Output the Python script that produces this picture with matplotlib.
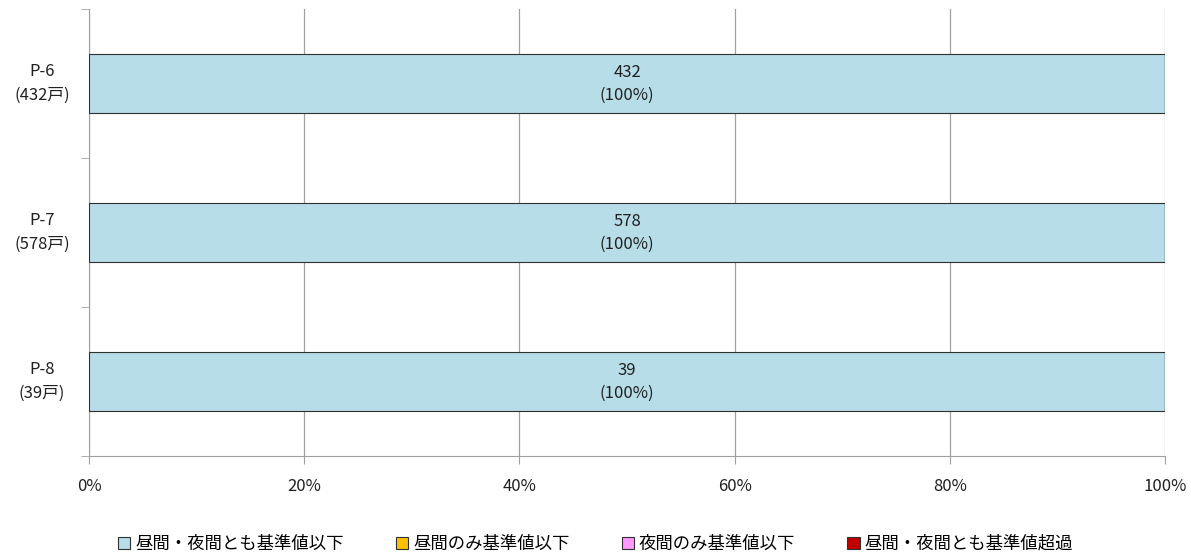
import matplotlib
matplotlib.use("Agg")
import matplotlib.pyplot as plt
import matplotlib.transforms as mtransforms
import numpy as np
from matplotlib.ticker import FixedLocator, PercentFormatter

plt.rcParams["font.family"] = ["Noto Sans CJK JP", "DejaVu Sans"]

categories = ["P-6\n(432戸)", "P-7\n(578戸)", "P-8\n(39戸)"]
series_names = ["昼間・夜間とも基準値以下", "昼間のみ基準値以下", "夜間のみ基準値以下", "昼間・夜間とも基準値超過"]
counts = [
    [432, 578, 39],
    [0, 0, 0],
    [0, 0, 0],
    [0, 0, 0],
]
colors = ["#b7dde8", "#ffc000", "#ff99ff", "#c00000"]

counts = np.array(counts, dtype=float)
totals = counts.sum(axis=0)
pct = counts / totals * 100

fig = plt.figure(figsize=(11.91, 5.6), dpi=100)
ax = fig.add_axes([89/1191, 1 - 456/560, (1165 - 89)/1191, (456 - 9)/560])

y = np.arange(len(categories))
left = np.zeros(len(categories))
for i, name in enumerate(series_names):
    ax.barh(y, pct[i], left=left, height=0.4, color=colors[i],
            edgecolor="#303030", linewidth=0.8, label=name, zorder=3)
    for j in range(len(categories)):
        if counts[i, j] > 0:
            ax.text(left[j] + pct[i, j] / 2, y[j], f"{int(counts[i, j])}\n({pct[i, j]:.0f}%)",
                    ha="center", va="center", fontsize=12, color="#202020",
                    linespacing=1.45, zorder=4)
    left += pct[i]

ax.set_xlim(0, 100)
ax.set_ylim(len(categories) - 0.5, -0.5)
ax.set_xticks(np.arange(0, 101, 20))
ax.xaxis.set_major_formatter(PercentFormatter(decimals=0))
ax.set_yticks(y)
ax.set_yticklabels([])
trans = mtransforms.blended_transform_factory(ax.transAxes, ax.transData)
for j, lab in enumerate(categories):
    ax.text(-47/1076, y[j], lab, transform=trans, ha="center", va="center",
            fontsize=12, color="#202020", linespacing=1.5)
ax.yaxis.set_minor_locator(FixedLocator(np.arange(-0.5, len(categories), 1.0)))
ax.tick_params(axis="y", which="major", length=0)
ax.tick_params(axis="y", which="minor", length=6, color="#a0a0a0")
ax.tick_params(axis="x", length=6, color="#a0a0a0", labelsize=12, pad=10, labelcolor="#202020")

ax.grid(axis="x", color="#a0a0a0", linewidth=0.9, zorder=0)
for s in ["top", "right"]:
    ax.spines[s].set_visible(False)
for s in ["left", "bottom"]:
    ax.spines[s].set_color("#a0a0a0")

handles, labels = ax.get_legend_handles_labels()
fig.legend(handles, labels, loc="center", bbox_to_anchor=(0.5, 1 - 544/560), ncol=4,
           frameon=False, fontsize=12.5, handlelength=0.7, handleheight=0.7,
           handletextpad=0.3, columnspacing=3.0)

fig.savefig("out.png", dpi=100)
